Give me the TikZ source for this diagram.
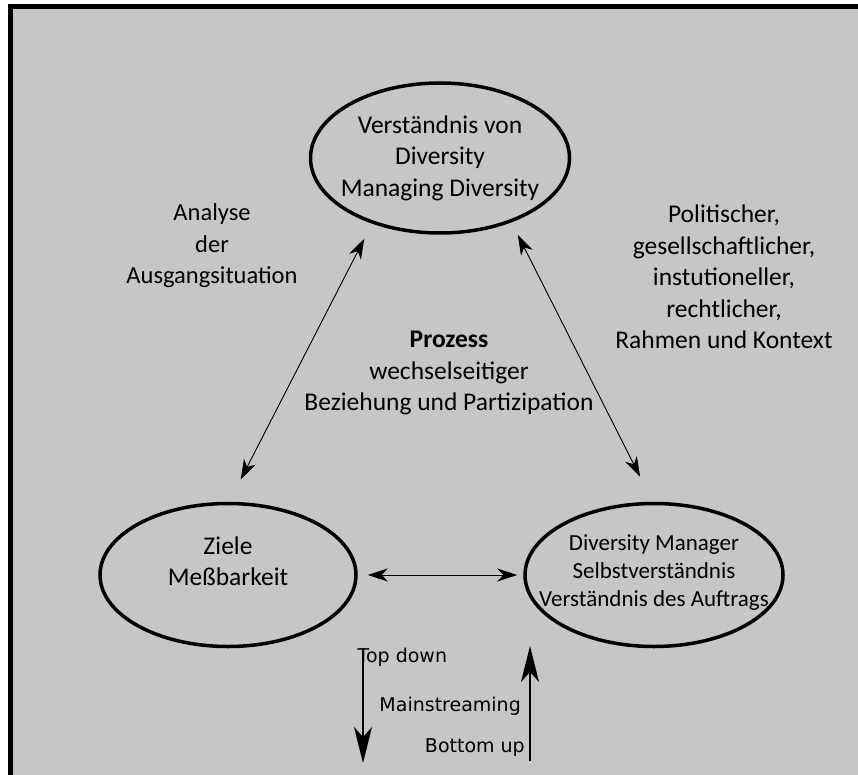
\documentclass[tikz,border=0pt]{standalone}
\usepackage{fontspec}
\setmainfont{Carlito}
\newfontfamily\flowfont{DejaVu Sans}
\usetikzlibrary{arrows.meta, positioning, calc, shapes.geometric}
\definecolor{panelgray}{RGB}{198,198,198}

\begin{document}
\begin{tikzpicture}[
    x=1pt, y=-1pt,
    every node/.style = {align=center, inner sep=0pt},
    bubble/.style  = {ellipse, draw, line width=3.5pt, inner sep=0pt},
    note/.style    = {font=\fontsize{25.5}{31.5}\selectfont},
    small/.style   = {font=\fontsize{23}{28}\selectfont},
    flowtxt/.style = {font=\flowfont\fontsize{19}{23}\selectfont},
    link/.style    = {{Stealth[length=20pt,width=13pt,inset=6pt]}-{Stealth[length=20pt,width=13pt,inset=6pt]},
                      line width=0.9pt},
    flow/.style    = {-{Stealth[length=36pt,width=18pt,inset=10pt]}, line width=2pt},
]
\useasboundingbox (0,0) rectangle (858,775);

%% Panel
\fill[white] (0,0) rectangle (858,775);
\fill[panelgray] (8,4) rectangle (858,775);
\draw[line width=5pt] (10.5,775) -- (10.5,6.5) -- (858,6.5);

%% Ellipses
\node[bubble, minimum width=259pt, minimum height=150pt] (verst)   at (440,158) {};
\node[bubble, minimum width=256pt, minimum height=143pt] (ziele)   at (228,575) {};
\node[bubble, minimum width=258pt, minimum height=143pt] (manager) at (654,575) {};

%% Ellipse texts
\node[note]  (versttxt)   at (440,158) {Verständnis von\\Diversity\\Managing Diversity};
\node[note]  (zieletxt)   at (228,561) {Ziele\\Meßbarkeit};
\node[small] (managertxt) at (654,573)
    {Diversity Manager\\Selbstverständnis\\Verständnis des Auftrags};

%% Side texts
\node[note, font=\fontsize{24.5}{31.5}\selectfont] (analyse) at (212,246)
    {Analyse\\der\\Ausgangsituation};
\node[note] (rahmen)  at (724,277)
    {Politischer,\\gesellschaftlicher,\\instutioneller,\\rechtlicher,\\Rahmen und Kontext};
\node[note] (prozess) at (449,373)
    {\textbf{Prozess}\\wechselseitiger\\Beziehung und Partizipation};

%% Links between ellipses
\draw[link, shorten <=17pt, shorten >=25pt] (verst.224) -- (ziele.89);
\draw[link, shorten <=14pt, shorten >=28pt] (verst.318) -- (manager.91);
\draw[link, shorten <=10pt, shorten >=6pt] (ziele.east) -- (manager.west);

%% Top down / Bottom up
\coordinate (tdtop) at (363,648);
\coordinate (tdbot) at (363,763);
\coordinate (bubot) at (530,761);
\coordinate (butop) at (530,646);
\node[flowtxt, anchor=west] (topdown)  at (357.5,657) {Top down};
\node[flowtxt, anchor=east] (mainstr)  at (521,706) {Mainstreaming};
\node[flowtxt, anchor=east] (bottomup) at (525,748) {Bottom up};
\draw[flow] (tdtop) -- (tdbot);
\draw[flow] (bubot) -- (butop);

\end{tikzpicture}
\end{document}
